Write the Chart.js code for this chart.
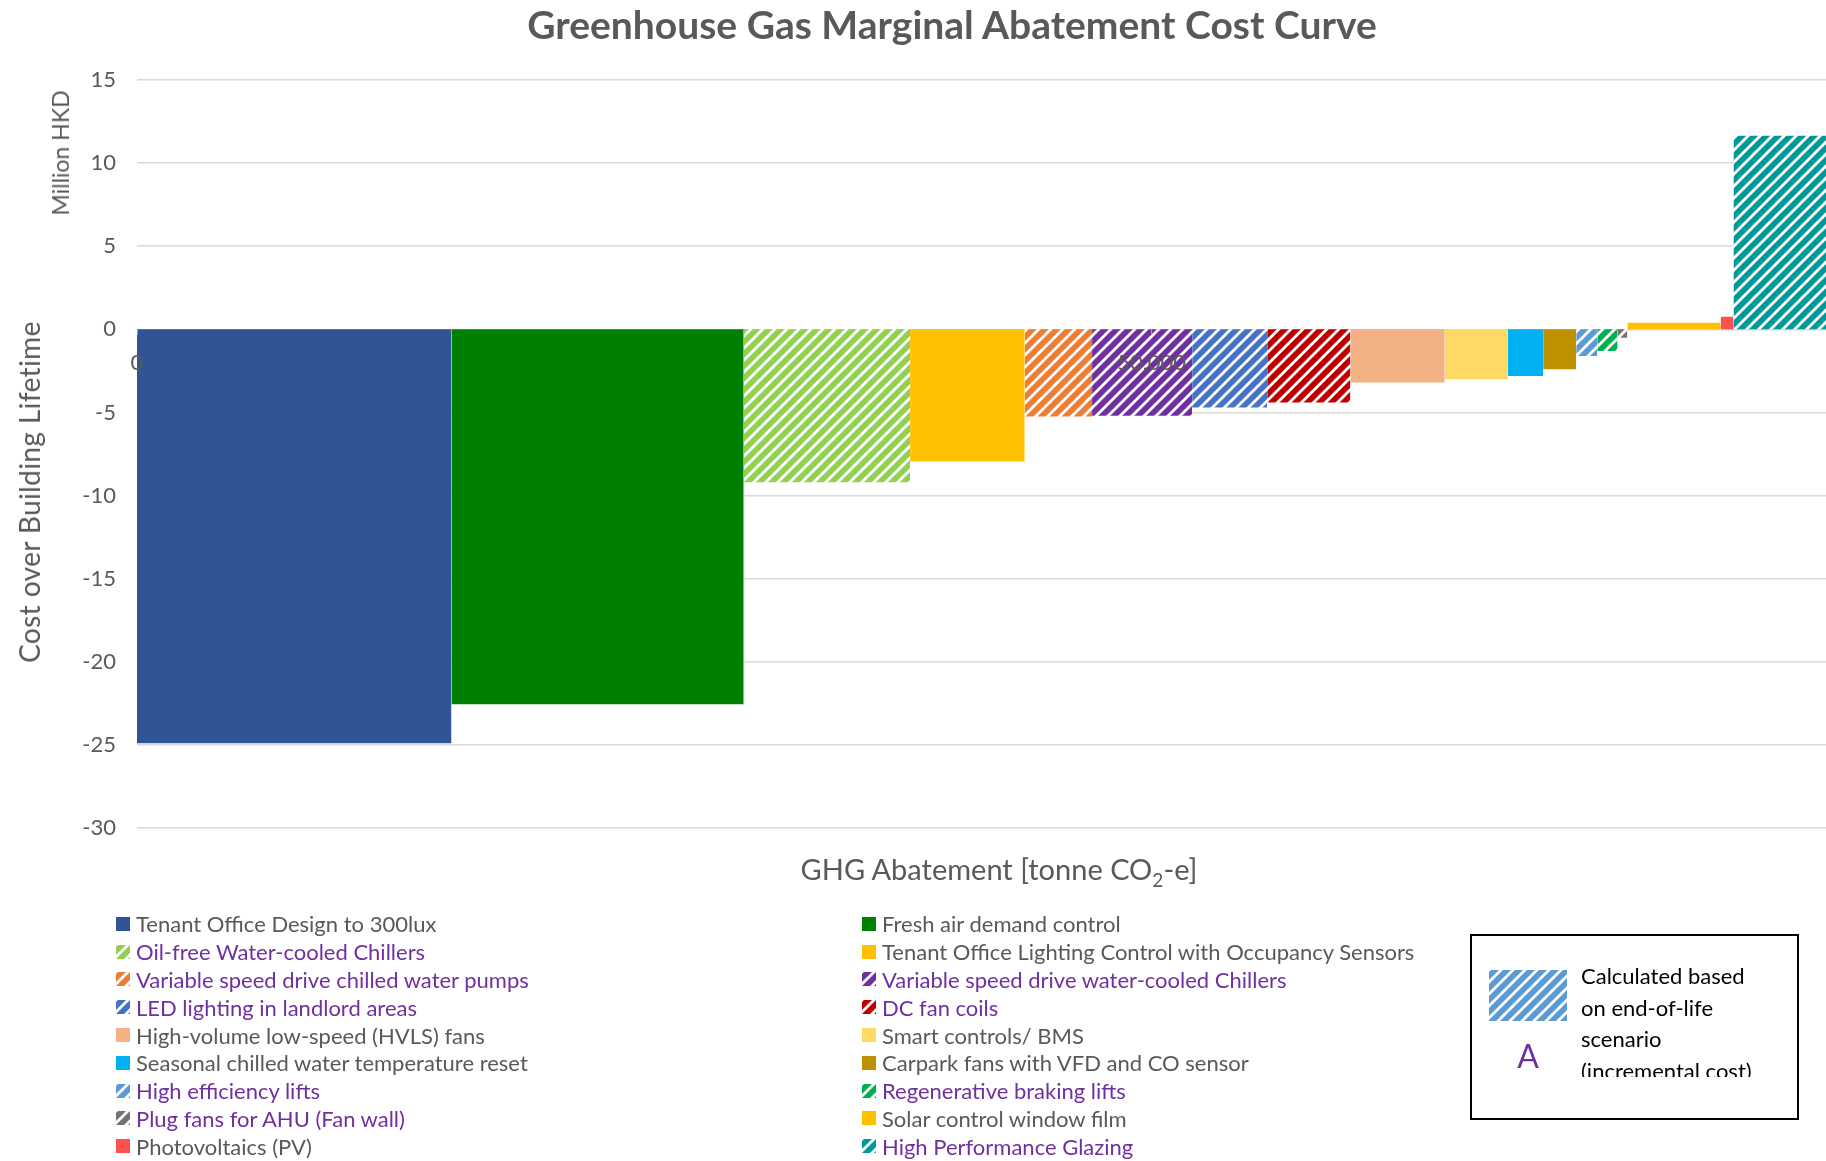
<!DOCTYPE html>
<html>
<head>
<meta charset="utf-8">
<title>Greenhouse Gas Marginal Abatement Cost Curve</title>
<script src="https://cdn.jsdelivr.net/npm/chart.js@4.4.1/dist/chart.umd.min.js"></script>
<style>
  html, body { margin: 0; padding: 0; background: #fff; }
  body {
    width: 1826px; height: 1161px; position: relative; overflow: hidden;
    font-family: Lato, "Open Sans", sans-serif; color: #595959;
  }
  #chartBox { position: absolute; left: 0; top: 0; width: 1826px; height: 1161px; }
  .txt { position: absolute; white-space: nowrap; }
  #title { left: 952px; top: 1px; transform: translateX(-50%); font-size: 39px; font-weight: bold; }
  #xTitle { left: 999px; top: 851px; transform: translateX(-50%); font-size: 29px; }
  #xTitle sub { font-size: 19px; vertical-align: -7px; }
  .yTitle { transform: translate(-50%, -50%) rotate(-90deg); }
  #yTitle1 { left: 29px; top: 492px; font-size: 28px; letter-spacing: 0.4px; }
  #yTitle2 { left: 60px; top: 153px; font-size: 23px; }
  #legend {
    position: absolute; left: 116px; top: 910px;
    display: grid; grid-template-columns: 746px auto; grid-auto-rows: 27.8px;
    font-size: 22px;
  }
  .item { display: flex; align-items: center; }
  .item canvas { width: 14px; height: 14px; margin-right: 6px; }
  .item.note { color: #7030a0; }
  #noteBox {
    position: absolute; left: 1470px; top: 934px; width: 329px; height: 186px;
    border: 2.5px solid #000; box-sizing: border-box;
  }
  #noteSwatch { position: absolute; left: 17px; top: 34px; width: 78px; height: 51px; }
  #noteA { position: absolute; left: 56px; top: 100px; transform: translateX(-50%); font-size: 32px; color: #7030a0; }
  #noteText {
    position: absolute; left: 109px; top: 24px; height: 117px; overflow: hidden;
    font-size: 22px; line-height: 31.5px; color: #000;
  }
</style>
</head>
<body>
<div id="chartBox"><canvas id="macc"></canvas></div>
<div id="title" class="txt">Greenhouse Gas Marginal Abatement Cost Curve</div>
<div id="xTitle" class="txt">GHG Abatement [tonne CO<sub>2</sub>-e]</div>
<div id="yTitle1" class="txt yTitle">Cost over Building Lifetime</div>
<div id="yTitle2" class="txt yTitle">Million HKD</div>
<div id="legend"></div>
<div id="noteBox">
  <canvas id="noteSwatch" width="78" height="51"></canvas>
  <div id="noteA">A</div>
  <div id="noteText">Calculated based<br>on end-of-life<br>scenario<br>(incremental cost)</div>
</div>
<script>
// measures, in merit order (cheapest first)
const measures = [
  "Tenant Office Design to 300lux",
  "Fresh air demand control",
  "Oil-free Water-cooled Chillers",
  "Tenant Office Lighting Control with Occupancy Sensors",
  "Variable speed drive chilled water pumps",
  "Variable speed drive water-cooled Chillers",
  "LED lighting in landlord areas",
  "DC fan coils",
  "High-volume low-speed (HVLS) fans",
  "Smart controls/ BMS",
  "Seasonal chilled water temperature reset",
  "Carpark fans with VFD and CO sensor",
  "High efficiency lifts",
  "Regenerative braking lifts",
  "Plug fans for AHU (Fan wall)",
  "Solar control window film",
  "Photovoltaics (PV)",
  "High Performance Glazing",
];

// GHG abatement of each measure, tonne CO2-e (bar width)
const abatement = [15500, 14400, 8200, 5650, 3320, 4930, 3700, 4100, 4650, 3100, 1750, 1630, 1040, 1000, 480, 4600, 630, 5000];

// cost over building lifetime, million HKD (bar height)
const cost = [-24.9, -22.55, -9.2, -7.95, -5.25, -5.2, -4.7, -4.4, -3.2, -3.0, -2.8, -2.4, -1.6, -1.3, -0.5, 0.4, 0.75, 11.65];

// end-of-life (incremental cost) measures get the hatched fill
const endOfLife = [false, false, true, false, true, true, true, true, false, false, false, false, true, true, true, false, false, true];

const colors = [
  "#2f5597", "#008000", "#92d050", "#ffc000", "#ed7d31", "#7030a0",
  "#4472c4", "#c00000", "#f4b183", "#ffd966", "#00b0f0", "#bf9000",
  "#5b9bd5", "#00b050", "#767171", "#ffc000", "#ff5050", "#009999",
];

const xTickValues = [0, 50000];
const xRange = [0, 83240];
const yRange = [-30, 15];
const yStep = 5;

// diagonal white stripes on a coloured tile
function hatchTile(color) {
  const tile = document.createElement("canvas");
  tile.width = tile.height = 12;
  const g = tile.getContext("2d");
  g.fillStyle = color;
  g.fillRect(0, 0, 12, 12);
  g.strokeStyle = "#fff";
  g.lineWidth = 2.8;
  g.beginPath();
  g.moveTo(-2, 2); g.lineTo(2, -2);
  g.moveTo(-1, 13); g.lineTo(13, -1);
  g.moveTo(10, 14); g.lineTo(14, 10);
  g.stroke();
  return tile;
}

const ctx = document.getElementById("macc").getContext("2d");

function fillFor(i, c) {
  return endOfLife[i] ? c.createPattern(hatchTile(colors[i]), "repeat") : colors[i];
}

// each measure is a closed step outline filled down to zero
let start = 0;
const datasets = measures.map((name, i) => {
  const end = start + abatement[i];
  const ds = {
    label: name,
    data: [
      { x: start, y: 0 },
      { x: start, y: cost[i] },
      { x: end, y: cost[i] },
      { x: end, y: 0 },
    ],
    fill: "origin",
    backgroundColor: fillFor(i, ctx),
    borderColor: "rgba(0,0,0,0)",
    borderWidth: 0,
    pointRadius: 0,
    tension: 0,
  };
  start = end;
  return ds;
});

new Chart(ctx, {
  type: "line",
  data: { datasets: datasets },
  options: {
    responsive: true,
    maintainAspectRatio: false,
    animation: false,
    events: [],
    layout: { padding: { top: 80, bottom: 333, left: 0, right: 0 } },
    plugins: { legend: { display: false }, tooltip: { enabled: false } },
    scales: {
      x: {
        type: "linear",
        position: { y: 0 },
        min: xRange[0],
        max: xRange[1],
        afterBuildTicks: (scale) => {
          scale.ticks = xTickValues.map((v) => ({ value: v }));
        },
        ticks: {
          color: "#595959",
          font: { family: "Lato", size: 22 },
          padding: 14,
          maxRotation: 0,
          z: 1,
        },
        grid: { drawOnChartArea: false, tickLength: 6, color: "#a6a6a6", z: 1 },
        border: { display: false },
      },
      y: {
        min: yRange[0],
        max: yRange[1],
        ticks: {
          stepSize: yStep,
          color: "#595959",
          font: { family: "Lato", size: 22 },
          padding: 21,
        },
        grid: { color: "#d9d9d9", lineWidth: 1.5, drawTicks: false },
        border: { display: false },
        afterFit: (scale) => { scale.width = 137; },
      },
    },
  },
});

// legend, two columns, filled row by row
const legendEl = document.getElementById("legend");
measures.forEach((name, i) => {
  const item = document.createElement("div");
  item.className = endOfLife[i] ? "item note" : "item";
  const sw = document.createElement("canvas");
  sw.width = 14; sw.height = 14;
  const sctx = sw.getContext("2d");
  sctx.fillStyle = fillFor(i, sctx);
  sctx.fillRect(0, 0, 14, 14);
  item.appendChild(sw);
  const label = document.createElement("span");
  label.textContent = name;
  item.appendChild(label);
  legendEl.appendChild(item);
});

// key for the hatched fill
const noteCtx = document.getElementById("noteSwatch").getContext("2d");
noteCtx.fillStyle = noteCtx.createPattern(hatchTile("#5b9bd5"), "repeat");
noteCtx.fillRect(0, 0, 78, 51);
</script>
</body>
</html>
